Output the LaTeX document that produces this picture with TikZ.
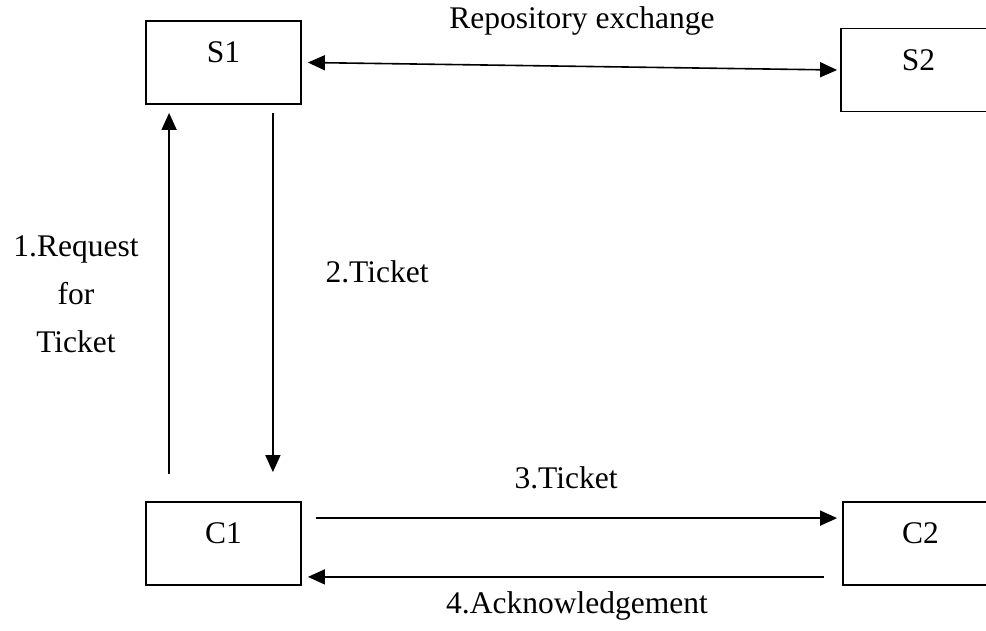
\documentclass[tikz,border=0pt]{standalone}
\usepackage{fontspec}
\setmainfont{Liberation Serif}
\usetikzlibrary{arrows.meta}
\tikzset{
  block/.style={draw, line width=1.8pt, minimum width=155pt, minimum height=83pt,
    inner sep=0pt, text height=20pt, text depth=20pt},
  msg/.style={line width=1.6pt, >={Triangle[length=17pt, width=15pt]}},
  lbl/.style={anchor=base, inner sep=0pt, align=center},
}
\begin{document}
\begin{tikzpicture}[x=1pt, y=-1pt, font=\fontsize{31.5}{48}\selectfont]
  \useasboundingbox (0,0) rectangle (986,630);

  \node[block] (S1) at (223.5,62.5) {S1};
  \node[block] (S2) at (918.5,70) {S2};
  \node[block] (C1) at (223.5,543.5) {C1};
  \node[block] (C2) at (920.5,543.5) {C2};

  \draw[msg, <->] ([xshift=6pt]S1.east) -- ([xshift=-3pt]S2.west); % exchange
  \draw[msg, ->] ([xshift=24pt, yshift=27pt]C1.north west) -- ([xshift=24pt, yshift=-8pt]S1.south west); % 1
  \draw[msg, ->] ([xshift=-29pt, yshift=-8pt]S1.south east) -- ([xshift=-29pt, yshift=29pt]C1.north east); % 2
  \draw[msg, ->] ([xshift=14pt, yshift=-17pt]C1.north east) -- ([xshift=-5pt, yshift=-17pt]C2.north west); % 3
  \draw[msg, ->] ([xshift=-18pt, yshift=9pt]C2.south west) -- ([xshift=6pt, yshift=9pt]C1.south east); % 4

  \node[lbl] (rep) at (582,28) {Repository exchange};
  \node[lbl] (req) at (76,352) {1.Request\\for\\Ticket};
  \node[lbl] (tk2) at (377,282) {2.Ticket};
  \node[lbl] (tk3) at (566,488) {3.Ticket};
  \node[lbl] (ack) at (577,613) {4.Acknowledgement};
\end{tikzpicture}
\end{document}
